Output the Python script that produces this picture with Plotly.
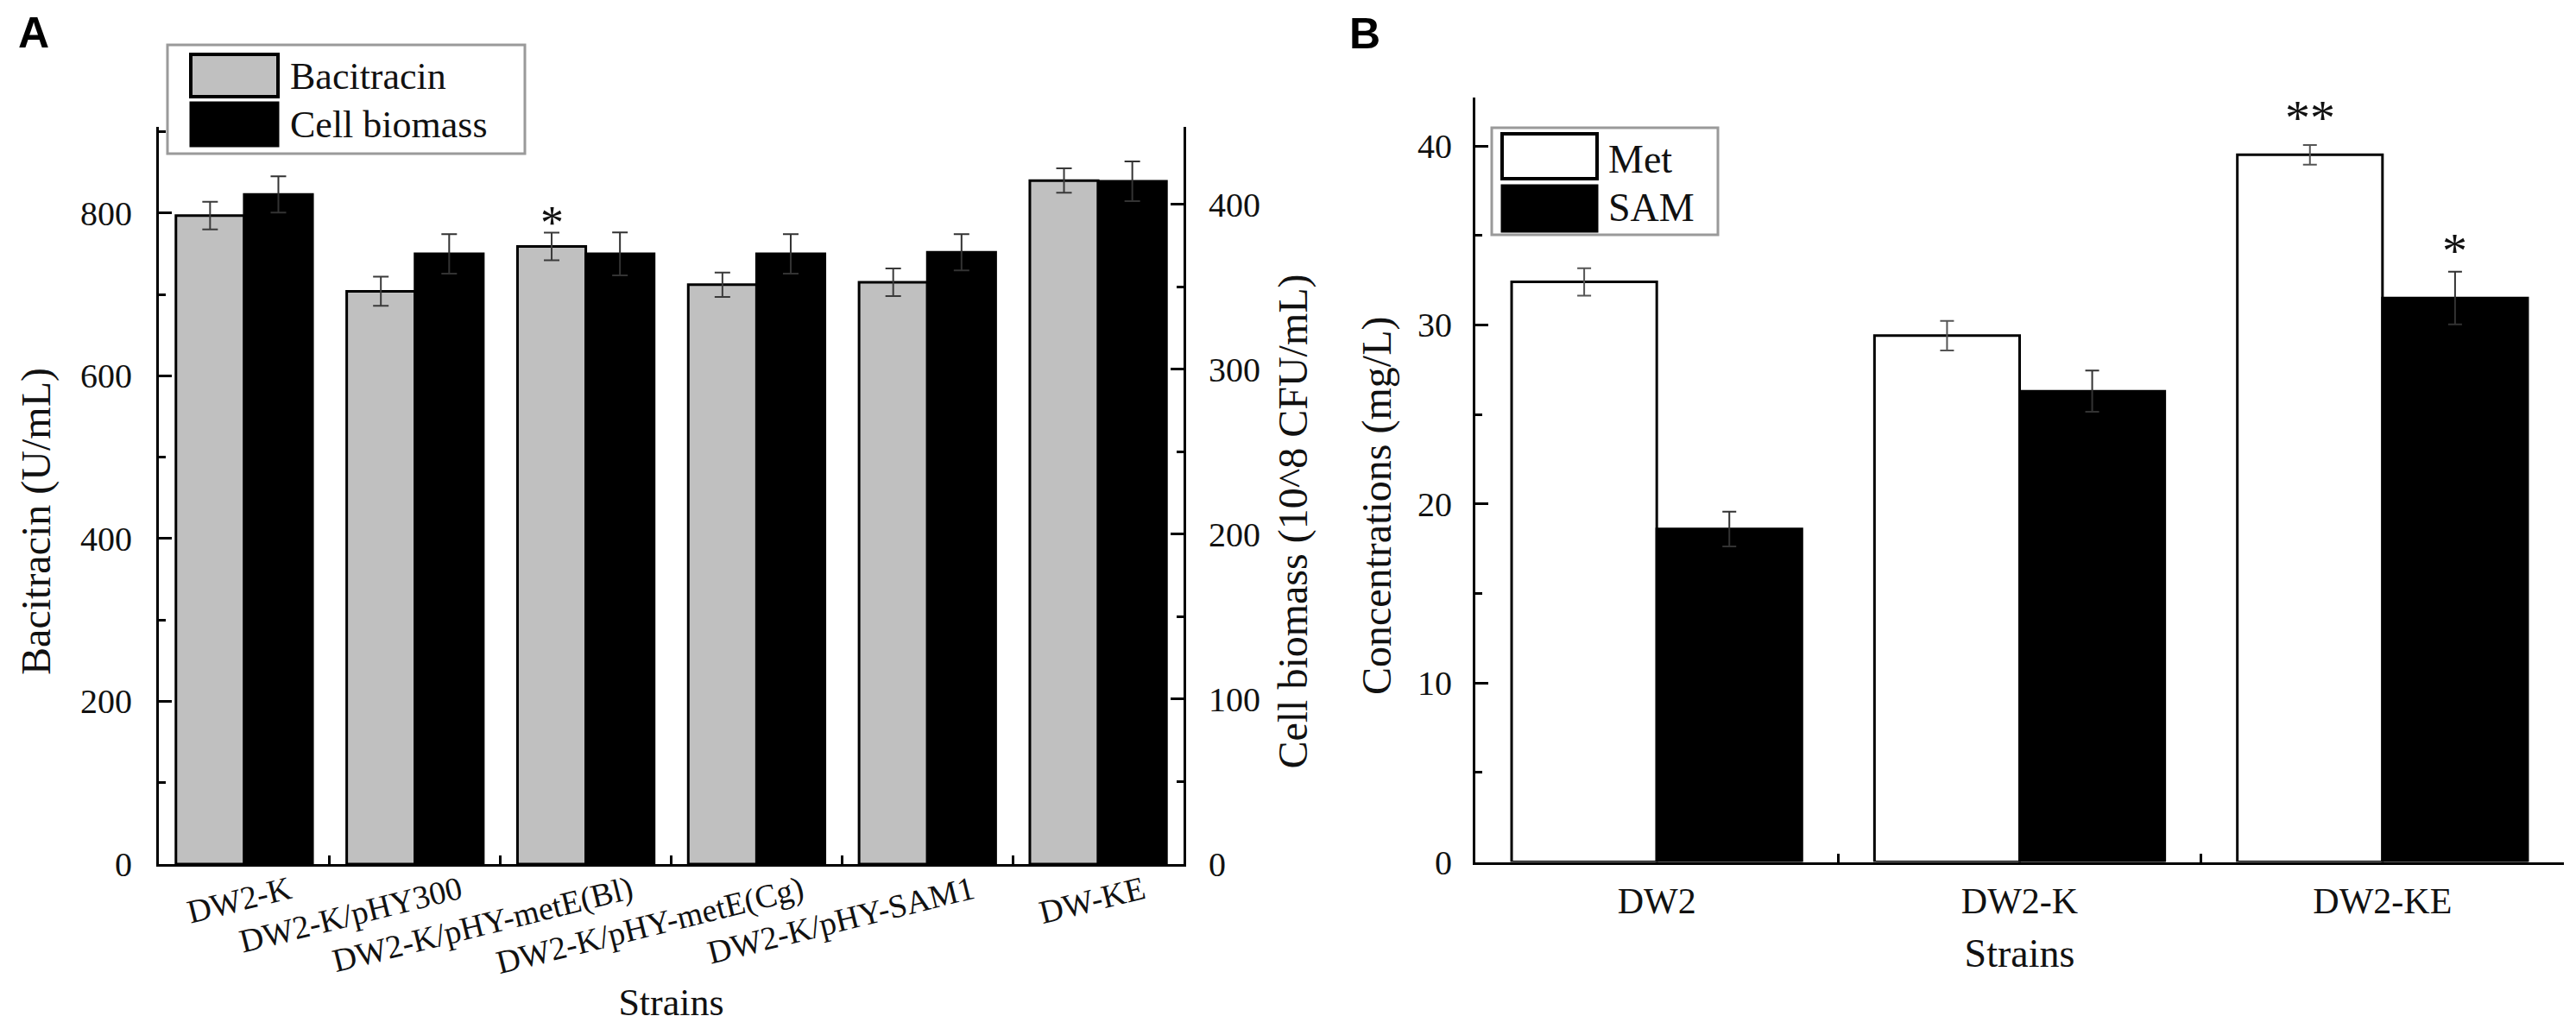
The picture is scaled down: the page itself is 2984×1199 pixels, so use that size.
import plotly.graph_objects as go

# ---------------- data ----------------
strains_a = ["DW2-K", "DW2-K/pHY300", "DW2-K/pHY-metE(Bl)",
             "DW2-K/pHY-metE(Cg)", "DW2-K/pHY-SAM1", "DW-KE"]
bacitracin = [797, 704, 759, 712, 715, 840]
bacitracin_err = [17, 18, 17, 15, 17, 15]
biomass = [406, 370, 370, 370, 371, 414]
biomass_err = [11, 12, 13, 12, 11, 12]

strains_b = ["DW2", "DW2-K", "DW2-KE"]
met = [32.4, 29.4, 39.5]
met_err = [0.76, 0.83, 0.55]
sam = [18.6, 26.3, 31.5]
sam_err = [0.97, 1.15, 1.47]

# ---------------- geometry helpers (pixel -> paper) ----------------
W, H = 2984, 1199
ML, MR, MT, MB = 176, 22, 105, 206
PW, PH = W - ML - MR, H - MT - MB


def xp(px):
    return (px - ML) / PW


def yp(py):
    return (H - MB - py) / PH


SERIF = "Liberation Serif"
TXT = "#111111"
# trailing non-breaking spaces nudge the rotated y titles slightly below centre
PAD = "<span>" + "\u00a0" * 5 + "</span>"

fig = go.Figure()

# Panel A
fig.add_trace(go.Bar(
    x=strains_a, y=bacitracin, name="Bacitracin",
    width=0.4, offset=-0.4,
    marker=dict(color="#c0c0c0", line=dict(color="black", width=3)),
    error_y=dict(type="data", array=bacitracin_err, color="#3a3a3a",
                 thickness=2, width=9),
    xaxis="x", yaxis="y", showlegend=False))
fig.add_trace(go.Bar(
    x=strains_a, y=biomass, name="Cell biomass",
    width=0.4, offset=0.0,
    marker=dict(color="black", line=dict(color="black", width=3)),
    error_y=dict(type="data", array=biomass_err, color="#333333",
                 thickness=2, width=9),
    xaxis="x", yaxis="y2", showlegend=False))

# Panel B
fig.add_trace(go.Bar(
    x=strains_b, y=met, name="Met",
    width=0.4, offset=-0.4,
    marker=dict(color="white", line=dict(color="black", width=3)),
    error_y=dict(type="data", array=met_err, color="#555555",
                 thickness=2, width=8),
    xaxis="x2", yaxis="y3", showlegend=False))
fig.add_trace(go.Bar(
    x=strains_b, y=sam, name="SAM",
    width=0.4, offset=0.0,
    marker=dict(color="black", line=dict(color="black", width=3)),
    error_y=dict(type="data", array=sam_err, color="#333333",
                 thickness=2, width=8),
    xaxis="x2", yaxis="y3", showlegend=False))

axis_common = dict(showline=True, linecolor="black", linewidth=3,
                   showgrid=False, zeroline=False, ticks="inside",
                   tickcolor="black", tickwidth=3, automargin=False)


def tfont(size):
    return dict(family=SERIF, size=size, color=TXT)


fig.update_layout(
    width=W, height=H,
    margin=dict(l=ML, r=MR, t=MT, b=MB),
    paper_bgcolor="white", plot_bgcolor="rgba(0,0,0,0)",
    barmode="overlay",
    font=dict(family=SERIF, color=TXT),
    xaxis=dict(**axis_common, domain=[0, xp(1363)], anchor="y",
               type="category", range=[-0.5, 5.5], tickson="boundaries",
               ticklen=10, tickangle=-14, ticklabelshift=52,
               ticklabelstandoff=-9, tickfont=tfont(38),
               title=dict(text="Strains", standoff=10, font=tfont(44))),
    yaxis=dict(**axis_common, domain=[0, yp(139)], anchor="x",
               range=[0, 906], dtick=200, ticklen=15, tickfont=tfont(40),
               minor=dict(ticks="inside", dtick=100, ticklen=8,
                          tickwidth=3, tickcolor="black"),
               ticklabelstandoff=20,
               title=dict(text="Bacitracin (U/mL)" + PAD, standoff=20,
                          font=tfont(48))),
    yaxis2=dict(**axis_common, overlaying="y", side="right", anchor="x",
                range=[0, 447], dtick=100, ticklen=15, tickfont=tfont(40),
                minor=dict(ticks="inside", dtick=50, ticklen=8,
                           tickwidth=3, tickcolor="black"),
                ticklabelstandoff=18,
                title=dict(text="Cell biomass (10^8 CFU/mL)" + PAD, standoff=22,
                           font=tfont(48))),
    xaxis2=dict(**axis_common, domain=[xp(1701), 1], anchor="y3",
                type="category", range=[-0.5, 2.5], tickson="boundaries",
                ticklen=10, ticklabelstandoff=6, tickfont=tfont(42),
                title=dict(text="Strains", standoff=22, font=tfont(46))),
    yaxis3=dict(**axis_common, domain=[yp(990.6), 1], anchor="x2",
                range=[0, 42.7], dtick=10, ticklen=15, tickfont=tfont(40),
                minor=dict(ticks="inside", dtick=5, ticklen=8,
                           tickwidth=3, tickcolor="black"),
                ticklabelstandoff=16,
                title=dict(text="Concentrations (mg/L)" + PAD, standoff=16,
                           font=tfont(48))),
)

shapes = []
annotations = []

# Custom legend A
shapes.append(dict(type="rect", xref="paper", yref="paper",
                   x0=xp(186), x1=xp(600), y0=yp(170), y1=yp(44),
                   fillcolor="white", line=dict(color="#9a9a9a", width=3)))
shapes.append(dict(type="rect", xref="paper", yref="paper",
                   x0=xp(213), x1=xp(314), y0=yp(104), y1=yp(55),
                   fillcolor="#c0c0c0", line=dict(color="black", width=4)))
shapes.append(dict(type="rect", xref="paper", yref="paper",
                   x0=xp(213), x1=xp(314), y0=yp(161), y1=yp(111),
                   fillcolor="black", line=dict(color="black", width=3)))
annotations.append(dict(text="Bacitracin", xref="paper", yref="paper",
                        x=xp(326), y=yp(80), xanchor="left", yanchor="middle",
                        showarrow=False, font=tfont(44)))
annotations.append(dict(text="Cell biomass", xref="paper", yref="paper",
                        x=xp(326), y=yp(136), xanchor="left", yanchor="middle",
                        showarrow=False, font=tfont(44)))

# Custom legend B
shapes.append(dict(type="rect", xref="paper", yref="paper",
                   x0=xp(1720), x1=xp(1982), y0=yp(264), y1=yp(140),
                   fillcolor="white", line=dict(color="#9a9a9a", width=3)))
shapes.append(dict(type="rect", xref="paper", yref="paper",
                   x0=xp(1732), x1=xp(1842), y0=yp(199), y1=yp(147),
                   fillcolor="white", line=dict(color="black", width=4)))
shapes.append(dict(type="rect", xref="paper", yref="paper",
                   x0=xp(1732), x1=xp(1842), y0=yp(260), y1=yp(207),
                   fillcolor="black", line=dict(color="black", width=3)))
annotations.append(dict(text="Met", xref="paper", yref="paper",
                        x=xp(1853), y=yp(176), xanchor="left", yanchor="middle",
                        showarrow=False, font=tfont(46)))
annotations.append(dict(text="SAM", xref="paper", yref="paper",
                        x=xp(1853), y=yp(232), xanchor="left", yanchor="middle",
                        showarrow=False, font=tfont(46)))

# Significance marks
annotations.append(dict(text="*", xref="x", yref="y", x=1.8,
                        y=bacitracin[2] + bacitracin_err[2],
                        yanchor="middle", yshift=12, showarrow=False,
                        font=tfont(54)))
annotations.append(dict(text="**", xref="x2", yref="y3", x=1.8,
                        y=met[2] + met_err[2],
                        yanchor="middle", yshift=31, showarrow=False,
                        font=tfont(58)))
annotations.append(dict(text="*", xref="x2", yref="y3", x=2.2,
                        y=sam[2] + sam_err[2],
                        yanchor="middle", yshift=24, showarrow=False,
                        font=tfont(58)))

# Panel letters
annotations.append(dict(text="<b>A</b>", xref="paper", yref="paper",
                        x=xp(31), y=yp(30), xanchor="center", yanchor="middle",
                        showarrow=False,
                        font=dict(family="Liberation Sans", size=50, color="black")))
annotations.append(dict(text="<b>B</b>", xref="paper", yref="paper",
                        x=xp(1573), y=yp(31), xanchor="center", yanchor="middle",
                        showarrow=False,
                        font=dict(family="Liberation Sans", size=50, color="black")))

fig.update_layout(shapes=shapes, annotations=annotations)

fig.write_html("out.html")
